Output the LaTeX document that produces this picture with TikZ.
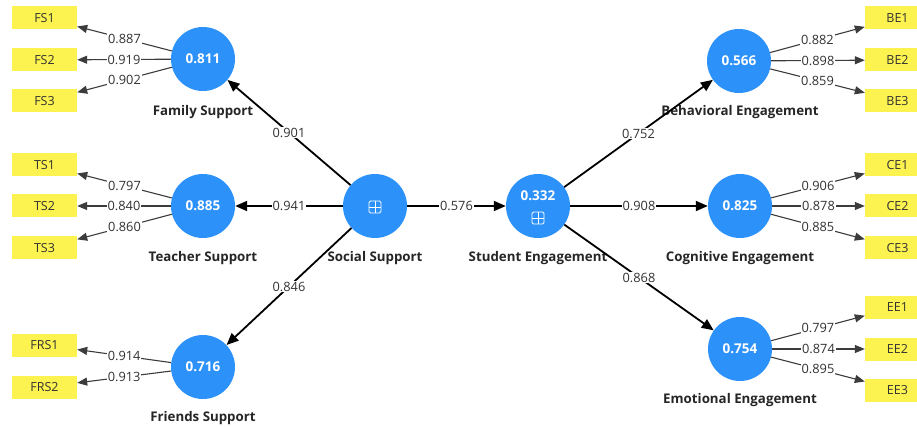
\documentclass[tikz,border=0pt]{standalone}
\usepackage{fontspec}
\setmainfont{Open Sans}
\usetikzlibrary{arrows.meta}
\definecolor{lvblue}{RGB}{45,145,250}
\definecolor{indyellow}{RGB}{252,242,80}
\definecolor{ldgray}{RGB}{60,60,60}
\definecolor{txtgray}{RGB}{50,50,50}
\begin{document}
\begin{tikzpicture}[x=1pt,y=-1pt,
 lv/.style={circle,fill=lvblue,minimum size=64pt,inner sep=0pt,text=white,font=\bfseries\fontsize{13.5}{15}\selectfont},
 lvtext/.style={text=white,inner sep=0pt,font=\bfseries\fontsize{13.5}{15}\selectfont},
 ind/.style={rectangle,fill=indyellow,minimum width=65pt,minimum height=23pt,inner sep=0pt,font=\fontsize{12.5}{14}\selectfont,text=txtgray},
 lvname/.style={inner sep=1pt,font=\bfseries\fontsize{13.3}{15}\selectfont,text=black!85},
 pathar/.style={-{Triangle[length=12pt,width=10pt]},line width=1.8pt,black},
 loadar/.style={-{Triangle[length=10pt,width=8pt]},line width=1.1pt,ldgray},
 coef/.style={fill=white,inner sep=1pt,font=\fontsize{12.8}{14}\selectfont,text=txtgray},
 icon/.style={draw=white,line width=0.9pt,rounded corners=1.5pt,minimum size=12pt,inner sep=0pt,
   path picture={\draw[white,line width=0.9pt] (path picture bounding box.north) -- (path picture bounding box.south) (path picture bounding box.west) -- (path picture bounding box.east);}}]
\useasboundingbox (0,0) rectangle (917,427);
\clip (0,0) rectangle (917,427);
\fill[white] (0,0) rectangle (917,427);

% latent variables
\node[lv] (fam) at (203,59) {0.811};
\node[lv] (tea) at (203,206) {0.885};
\node[lv] (fri) at (203,367) {0.716};
\node[lv] (soc) at (375,206) {};
\node[lv] (stu) at (538,206) {};
\node[lv] (beh) at (739,61) {0.566};
\node[lv] (cog) at (740,206) {0.825};
\node[lv] (emo) at (740,349) {0.754};
\node[icon] (socicon) at (375,207) {};
\node[lvtext] (sturs) at (538,196) {0.332};
\node[icon] (stuicon) at (538,218) {};

% names
\node[lvname] (famn) at (203,112) {Family Support};
\node[lvname] (tean) at (203,258) {Teacher Support};
\node[lvname] (frin) at (203,418) {Friends Support};
\node[lvname] (socn) at (375,258) {Social Support};
\node[lvname] (stun) at (538,258) {Student Engagement};
\node[lvname] (behn) at (740,112) {Behavioral Engagement};
\node[lvname] (cogn) at (740,258) {Cognitive Engagement};
\node[lvname] (emon) at (740,400) {Emotional Engagement};

% indicators left
\node[ind] (FS1) at (44.5,18) {FS1};
\node[ind] (FS2) at (44.5,60) {FS2};
\node[ind] (FS3) at (44.5,101) {FS3};
\node[ind] (TS1) at (44.5,165) {TS1};
\node[ind] (TS2) at (44.5,206) {TS2};
\node[ind] (TS3) at (44.5,248) {TS3};
\node[ind] (FRS1) at (44.5,345) {FRS1};
\node[ind] (FRS2) at (44.5,387) {FRS2};
% indicators right
\node[ind] (BE1) at (897.5,18) {BE1};
\node[ind] (BE2) at (897.5,60) {BE2};
\node[ind] (BE3) at (897.5,101) {BE3};
\node[ind] (CE1) at (897.5,165) {CE1};
\node[ind] (CE2) at (897.5,206) {CE2};
\node[ind] (CE3) at (897.5,248) {CE3};
\node[ind] (EE1) at (897.5,307) {EE1};
\node[ind] (EE2) at (897.5,349) {EE2};
\node[ind] (EE3) at (897.5,390) {EE3};

% loadings
\draw[loadar] (fam) -- node[coef] {0.887} (FS1);
\draw[loadar] (fam) -- node[coef] {0.919} (FS2);
\draw[loadar] (fam) -- node[coef] {0.902} (FS3);
\draw[loadar] (tea) -- node[coef] {0.797} (TS1);
\draw[loadar] (tea) -- node[coef] {0.840} (TS2);
\draw[loadar] (tea) -- node[coef] {0.860} (TS3);
\draw[loadar] (fri) -- node[coef] {0.914} (FRS1);
\draw[loadar] (fri) -- node[coef] {0.913} (FRS2);
\draw[loadar] (beh) -- node[coef] {0.882} (BE1);
\draw[loadar] (beh) -- node[coef] {0.898} (BE2);
\draw[loadar] (beh) -- node[coef] {0.859} (BE3);
\draw[loadar] (cog) -- node[coef] {0.906} (CE1);
\draw[loadar] (cog) -- node[coef] {0.878} (CE2);
\draw[loadar] (cog) -- node[coef] {0.885} (CE3);
\draw[loadar] (emo) -- node[coef] {0.797} (EE1);
\draw[loadar] (emo) -- node[coef] {0.874} (EE2);
\draw[loadar] (emo) -- node[coef] {0.895} (EE3);

% structural paths
\draw[pathar] (soc) -- node[coef] {0.901} (fam);
\draw[pathar] (soc) -- node[coef] {0.941} (tea);
\draw[pathar] (soc) -- node[coef] {0.846} (fri);
\draw[pathar] (soc) -- node[coef] {0.576} (stu);
\draw[pathar] (stu) -- node[coef] {0.752} (beh);
\draw[pathar] (stu) -- node[coef] {0.908} (cog);
\draw[pathar] (stu) -- node[coef] {0.868} (emo);
\end{tikzpicture}
\end{document}
